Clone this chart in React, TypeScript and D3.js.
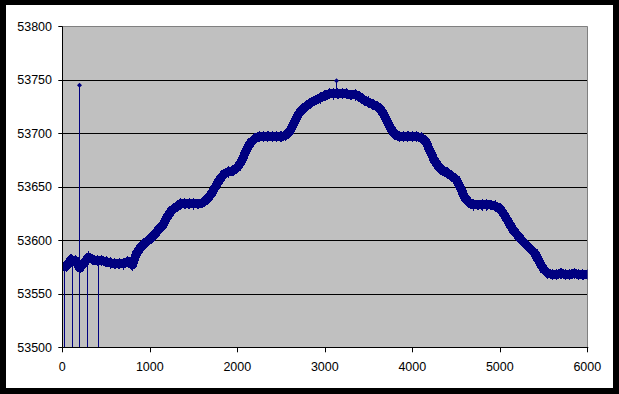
import React from 'react';
import * as d3 from 'd3';

// readings taken every 50 units along x
const xStep = 50;
const seriesValues = [
  53575, 53576, 53582, 53581, 53574, 53579, 53584, 53582, 53581, 53581,
  53580, 53579, 53578, 53578, 53578, 53580, 53577, 53588, 53594, 53598,
  53601, 53605, 53610, 53614, 53622, 53628, 53631, 53634, 53634, 53634,
  53634, 53634, 53635, 53638, 53643, 53650, 53657, 53662, 53664, 53665,
  53668, 53674, 53684, 53691, 53695, 53697, 53697, 53697, 53697, 53697,
  53697, 53698, 53702, 53710, 53718, 53723, 53726, 53729, 53731, 53733,
  53735, 53737, 53737, 53737, 53737, 53737, 53736, 53736, 53734, 53731,
  53729, 53727, 53725, 53721, 53713, 53705, 53699, 53697, 53697, 53697,
  53697, 53697, 53696, 53693, 53684, 53675, 53669, 53665, 53663, 53660,
  53657, 53649, 53640, 53635, 53633, 53633, 53633, 53633, 53633, 53632,
  53630, 53624, 53617, 53610, 53605, 53600, 53596, 53592, 53588, 53580,
  53573, 53569, 53568, 53568, 53569, 53568, 53568, 53569, 53568, 53568,
  53568,
];

// samples that dropped out (below the axis minimum)
const dropX = [23, 114, 194, 286, 411];
const dropValue = 53400;
// isolated high readings
const highX = [194, 3130];
const highValue = [53745, 53749];

const yTicks = [53500, 53550, 53600, 53650, 53700, 53750, 53800];
const xTicks = [0, 1000, 2000, 3000, 4000, 5000, 6000];

const navy = '#000080';

export default function App() {
  const W = 619;
  const H = 394;
  const left = 62.3;
  const right = 587.3;
  const top = 26.3;
  const bottom = 347.3;

  const x = d3.scaleLinear().domain([0, 6000]).range([left, right]);
  const y = d3.scaleLinear().domain([53500, 53800]).range([bottom, top]);

  const points = seriesValues.map((v, i) => ({ x: i * xStep, v }));
  const line = d3.line<{ x: number; v: number }>()
    .x(d => x(d.x))
    .y(d => y(d.v));

  const valueAt = (vx: number) => {
    const i = Math.min(seriesValues.length - 2, Math.floor(vx / xStep));
    const t = (vx - i * xStep) / xStep;
    return seriesValues[i] * (1 - t) + seriesValues[i + 1] * t;
  };

  const font = { fontFamily: 'Liberation Sans, Arial, sans-serif', fontSize: 12.5 };

  return (
    <svg width={W} height={H} style={{ position: 'absolute', left: 0, top: 0 }}>
      <defs>
        <clipPath id="plot">
          <rect x={left} y={top} width={right - left} height={bottom - top} />
        </clipPath>
      </defs>
      <rect x={0} y={0} width={W} height={H} fill="#000" />
      <rect x={6} y={5} width={607} height={383} fill="#fff" />
      <rect x={left} y={top} width={right - left} height={bottom - top} fill="#c0c0c0" />
      {yTicks.slice(1, -1).map(t => (
        <line key={t} x1={left} x2={right} y1={Math.round(y(t)) + 0.5} y2={Math.round(y(t)) + 0.5} stroke="#000" />
      ))}
      <line x1={left} x2={right} y1={Math.round(top) + 0.5} y2={Math.round(top) + 0.5} stroke="#808080" />
      <line x1={Math.round(right) + 0.5} x2={Math.round(right) + 0.5} y1={top} y2={bottom} stroke="#808080" />

      <g clipPath="url(#plot)">
        {dropX.map(d => (
          <line key={d} x1={Math.round(x(d)) + 0.5} x2={Math.round(x(d)) + 0.5}
            y1={y(valueAt(d))} y2={y(dropValue)} stroke={navy} strokeWidth={1} />
        ))}
        {highX.map((d, i) => (
          <line key={'h' + d} x1={Math.round(x(d)) + 0.5} x2={Math.round(x(d)) + 0.5}
            y1={y(valueAt(d))} y2={y(highValue[i])} stroke={navy} strokeWidth={1} />
        ))}
        <path d={line(points) || ''} fill="none" stroke={navy} strokeWidth={9}
          strokeLinejoin="round" strokeLinecap="round" shapeRendering="crispEdges" />
        {points.map(p => (
          <path key={p.x} transform={`translate(${x(p.x)},${y(p.v)})`}
            d="M0,-6L3.5,0L0,6L-3.5,0Z" fill={navy} shapeRendering="crispEdges" />
        ))}
        {highX.map((d, i) => (
          <path key={'m' + d} transform={`translate(${Math.round(x(d)) + 0.5},${y(highValue[i])})`}
            d="M0,-2.5L2.5,0L0,2.5L-2.5,0Z" fill={navy} />
        ))}
      </g>

      <line x1={Math.round(left) + 0.5} x2={Math.round(left) + 0.5} y1={top} y2={bottom} stroke="#000" />
      <line x1={left} x2={right + 1} y1={Math.round(bottom) + 0.5} y2={Math.round(bottom) + 0.5} stroke="#000" />
      {yTicks.map(t => (
        <g key={t}>
          <line x1={left - 4} x2={left} y1={Math.round(y(t)) + 0.5} y2={Math.round(y(t)) + 0.5} stroke="#000" />
          <text x={52} y={y(t)} dy="0.35em" textAnchor="end" {...font}>{t}</text>
        </g>
      ))}
      {xTicks.map(t => (
        <g key={t}>
          <line x1={Math.round(x(t)) + 0.5} x2={Math.round(x(t)) + 0.5} y1={bottom} y2={bottom + 5} stroke="#000" />
          <text x={x(t)} y={371} textAnchor="middle" {...font}>{t}</text>
        </g>
      ))}
    </svg>
  );
}
